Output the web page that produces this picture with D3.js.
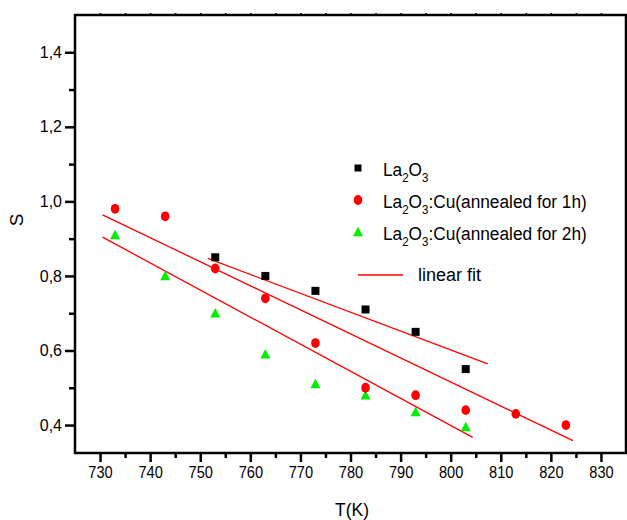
<!DOCTYPE html>
<html><head><meta charset="utf-8">
<script src="https://cdn.jsdelivr.net/npm/d3@7"></script>
<style>
html,body{margin:0;padding:0;background:#fff;}
svg{display:block;}
text{font-family:"Liberation Sans",Arial,sans-serif;fill:#000;}
</style></head>
<body>
<svg id="chart" width="627" height="520"></svg>
<script>
// ---- data ----
const xMajorTicks = [730,740,750,760,770,780,790,800,810,820,830];
const xMinorTicks = [735,745,755,765,775,785,795,805,815,825];
const yMajorTicks = [0.4,0.6,0.8,1.0,1.2,1.4];
const yMinorTicks = [0.5,0.7,0.9,1.1,1.3];
const yTickLabels = ["0,4","0,6","0,8","1,0","1,2","1,4"];

const tLa = [753,763,773,783,793,803];
const sLa = [0.85,0.80,0.76,0.71,0.65,0.55];
const t1h = [733,743,753,763,773,783,793,803,813,823];
const s1h = [0.98,0.96,0.82,0.74,0.62,0.50,0.48,0.44,0.43,0.40];
const t2h = [733,743,753,763,773,783,793,803];
const s2h = [0.91,0.80,0.70,0.59,0.51,0.48,0.435,0.395];

// fitted line end points
const fitLaT = [751.5,807.4], fitLaS = [0.847,0.564];
const fit1hT = [730.5,824.4], fit1hS = [0.964,0.358];
const fit2hT = [730.5,804.4], fit2hS = [0.904,0.367];

const legendLabels = ["La2O3","La2O3:Cu(annealed for 1h)","La2O3:Cu(annealed for 2h)","linear fit"];

// ---- layout ----
const L=75, R=626, T=15, B=453;
const svg = d3.select("#chart");
const x = d3.scaleLinear().domain([725,835]).range([L,R]);
const y = d3.scaleLinear().domain([0.325,1.5]).range([B,T]);

const RED="#ff0000", GREEN="#00ee00";

// frame
svg.append("rect").attr("x",L).attr("y",T).attr("width",R-L).attr("height",B-T)
  .attr("fill","none").attr("stroke","#000").attr("stroke-width",2.5);

// bottom axis
const gx = svg.append("g").attr("transform",`translate(0,${B})`)
  .call(d3.axisBottom(x).tickValues(xMajorTicks).tickSize(9).tickPadding(4).tickFormat(d3.format("d")));
gx.select(".domain").remove();
gx.selectAll(".tick line").attr("stroke","#000").attr("stroke-width",2.5);
gx.selectAll(".tick text").attr("font-size",17).attr("transform","scale(0.86,1)").style("font-family","'Liberation Sans',Arial,sans-serif");
const gxm = svg.append("g").attr("transform",`translate(0,${B})`)
  .call(d3.axisBottom(x).tickValues(xMinorTicks).tickSize(5).tickFormat(""));
gxm.select(".domain").remove();
gxm.selectAll(".tick line").attr("stroke","#000").attr("stroke-width",2.5);

// top ticks (tiny)
const gt = svg.append("g").attr("transform",`translate(0,${T})`)
  .call(d3.axisTop(x).tickValues(xMajorTicks.concat(xMinorTicks)).tickSize(2).tickFormat(""));
gt.select(".domain").remove();
gt.selectAll(".tick line").attr("stroke","#000").attr("stroke-width",1.5);

// left axis
const gy = svg.append("g").attr("transform",`translate(${L},0)`)
  .call(d3.axisLeft(y).tickValues(yMajorTicks).tickSize(10).tickPadding(3)
    .tickFormat((d,i)=>yTickLabels[i]));
gy.select(".domain").remove();
gy.selectAll(".tick line").attr("stroke","#000").attr("stroke-width",2.5);
gy.selectAll(".tick text").attr("font-size",16).style("font-family","'Liberation Sans',Arial,sans-serif");
const gym = svg.append("g").attr("transform",`translate(${L},0)`)
  .call(d3.axisLeft(y).tickValues(yMinorTicks).tickSize(6).tickFormat(""));
gym.select(".domain").remove();
gym.selectAll(".tick line").attr("stroke","#000").attr("stroke-width",2.5);

// axis titles
svg.append("text").attr("x",352).attr("y",516).attr("text-anchor","middle")
  .attr("font-size",19).attr("transform","translate(352,0) scale(0.92,1) translate(-352,0)").text("T(K)");
svg.append("text").attr("transform","translate(23,220) rotate(-90)").attr("text-anchor","middle")
  .attr("font-size",19).text("S");

// fit lines
function fitLine(ts,ss){
  svg.append("line").attr("x1",x(ts[0])).attr("y1",y(ss[0])).attr("x2",x(ts[1])).attr("y2",y(ss[1]))
    .attr("stroke",RED).attr("stroke-width",1.3);
}
fitLine(fitLaT,fitLaS); fitLine(fit1hT,fit1hS); fitLine(fit2hT,fit2hS);

// markers
function square(g,cx,cy,s){ g.append("rect").attr("x",cx-s/2).attr("y",cy-s/2).attr("width",s).attr("height",s).attr("fill","#000"); }
function dot(g,cx,cy){ g.append("ellipse").attr("cx",cx).attr("cy",cy).attr("rx",4.3).attr("ry",4.9).attr("fill",RED); }
function tri(g,cx,cy,w,h){ g.append("path").attr("d",`M${cx},${cy-h*0.55}L${cx+w/2},${cy+h*0.45}L${cx-w/2},${cy+h*0.45}Z`).attr("fill",GREEN); }

const gm = svg.append("g");
t2h.forEach((t,i)=>tri(gm,x(t),y(s2h[i]),10,9.5));
tLa.forEach((t,i)=>square(gm,x(t),y(sLa[i]),8));
t1h.forEach((t,i)=>dot(gm,x(t),y(s1h[i])));

// legend
const lg = svg.append("g");
const lx = 358, tx = 383;
const rows = [168,200,232];
square(lg,lx,rows[0],7);
dot(lg,lx,rows[1]);
tri(lg,lx,rows[2],10,9.5);
function formula(yb,suffix){
  const t = lg.append("text").attr("x",tx).attr("y",yb).attr("font-size",18)
    .attr("transform",`translate(${tx},0) scale(0.96,1) translate(${-tx},0)`);
  t.append("tspan").text("La");
  t.append("tspan").attr("font-size",12).attr("dy",6).text("2");
  t.append("tspan").attr("dy",-6).text("O");
  t.append("tspan").attr("font-size",12).attr("dy",6).text("3");
  if(suffix) t.append("tspan").attr("dy",-6).text(suffix);
}
formula(rows[0]+8, "");
formula(rows[1]+8, legendLabels[1].slice(5));
formula(rows[2]+8, legendLabels[2].slice(5));
lg.append("line").attr("x1",358).attr("x2",403).attr("y1",275).attr("y2",275)
  .attr("stroke",RED).attr("stroke-width",1.3);
lg.append("text").attr("x",418).attr("y",281).attr("font-size",18).text(legendLabels[3]);
</script>
</body></html>
